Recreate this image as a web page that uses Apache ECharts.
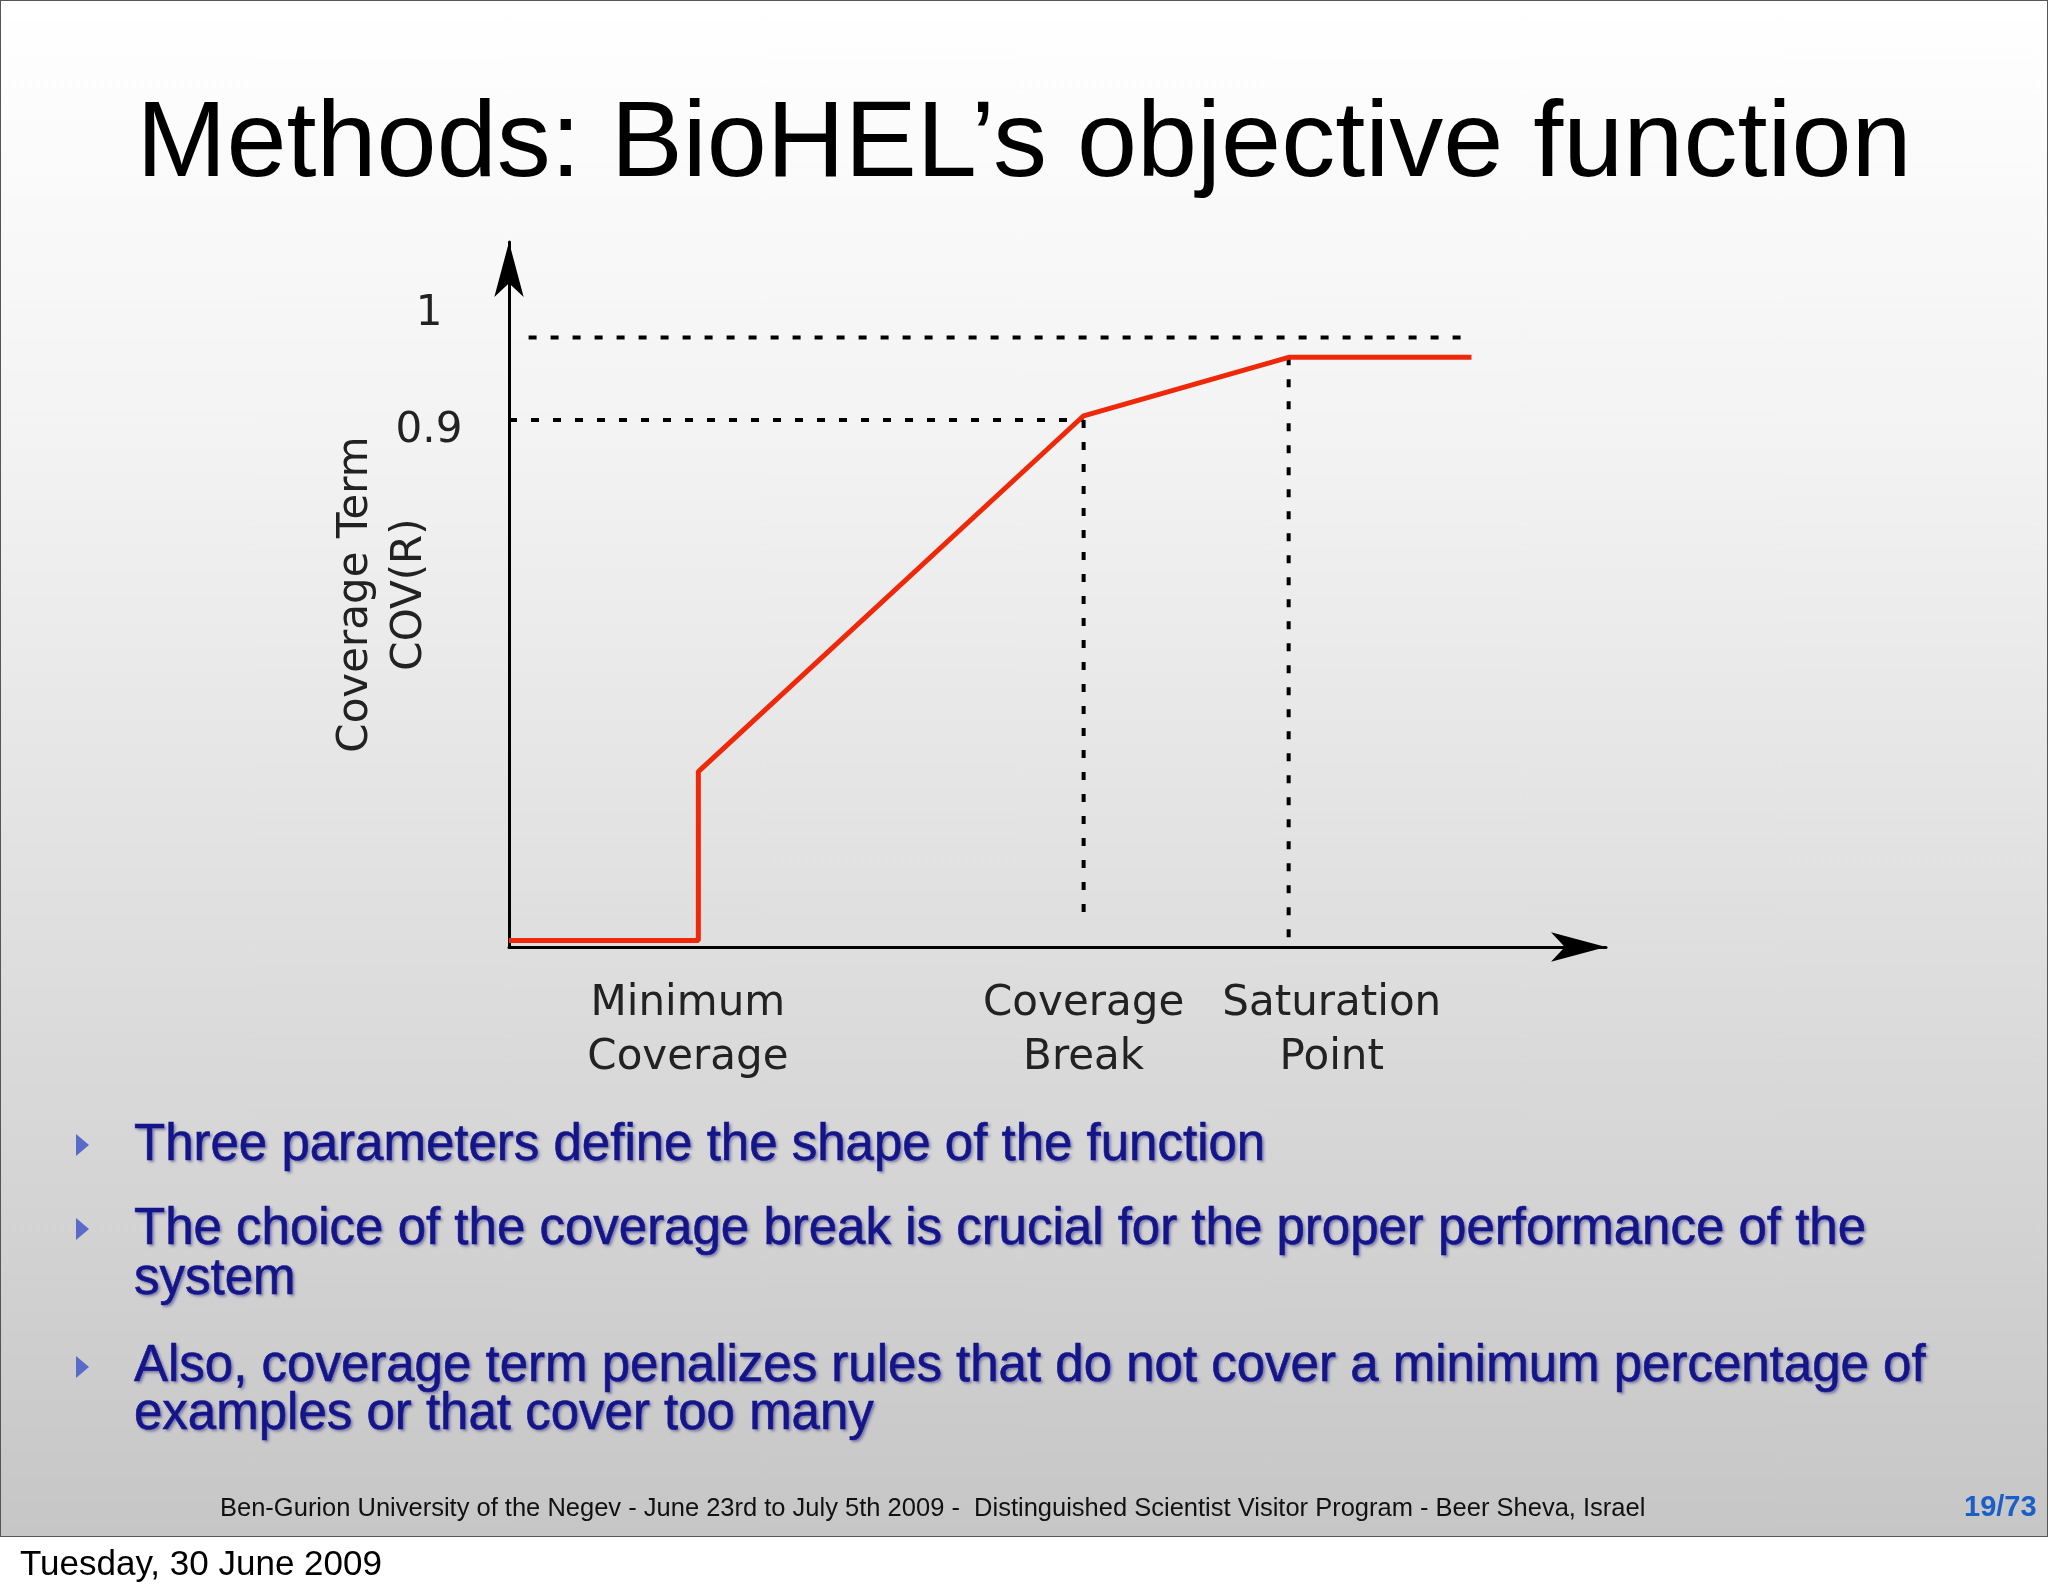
<!DOCTYPE html>
<html><head><meta charset="utf-8">
<script src="https://cdn.jsdelivr.net/npm/echarts@6/dist/echarts.min.js"></script>
<style>
html,body{margin:0;padding:0;width:2048px;height:1593px;background:#fff;overflow:hidden;font-family:"Liberation Sans",Arial,sans-serif}
#slide{position:absolute;left:0;top:0;width:2046px;height:1535px;border:1px solid #555;background:linear-gradient(#ffffff 0%,#f2f2f2 30%,#c6c6c6 100%)}
#chart{position:absolute;left:0;top:0;width:2048px;height:1593px}
.t{position:absolute;white-space:nowrap}
.b{position:absolute;left:134px;font-size:51px;color:#15158a;text-shadow:2px 2px 3px rgba(60,60,140,0.6);line-height:50px;-webkit-text-stroke:0.6px #15158a}
.tri{position:absolute;left:76px;width:0;height:0;border-top:11px solid transparent;border-bottom:11px solid transparent;border-left:13px solid #5a6ac8}
</style></head><body>
<div id="slide"></div>
<div id="chart"></div>
<div class="t" style="left:0;width:2048px;text-align:center;top:76px;font-size:108px;color:#000">Methods: BioHEL’s objective function</div>
<div class="tri" style="top:1134px"></div><div class="b" style="top:1118px">Three parameters define the shape of the function</div>
<div class="tri" style="top:1218px"></div><div class="b" style="top:1202px">The choice of the coverage break is crucial for the proper performance of the<br>system</div>
<div class="tri" style="top:1356px"></div><div class="b" style="top:1340px;line-height:48px">Also, coverage term penalizes rules that do not cover a minimum percentage of<br>examples or that cover too many</div>
<div class="t" style="left:220px;top:1493px;font-size:25.5px;color:#111">Ben-Gurion University of the Negev - June 23rd to July 5th 2009 -&nbsp; Distinguished Scientist Visitor Program - Beer Sheva, Israel</div>
<div class="t" style="left:1964px;top:1490px;font-size:29px;font-weight:bold;color:#1a5fc8">19/73</div>
<div class="t" style="left:20px;top:1543px;font-size:35px;color:#000">Tuesday, 30 June 2009</div>
<script>
const curveX=[0,145,145,440,597,737];
const curveY=[0.268,0.268,0.473,0.905,0.976,0.976];
const yTicks=[0.886,1.029];
const yTickLabels=['0.9','1'];
const xLabelPos=[137,440,630];
const xLabels=['Minimum\nCoverage','Coverage\nBreak','Saturation\nPoint'];
const ref1=[[15,1],[737,1]];
const ref09=[[0,0.9],[440,0.9]];
const vBreak=[[440,0.9],[440,0.29]];
const vSat=[[597,0.976],[597,0.26]];
const fontF='"DejaVu Sans",sans-serif';
const chart=echarts.init(document.getElementById('chart'));
const dash={type:'line',symbol:'none',silent:true,lineStyle:{color:'#000',width:4,type:[8,14]}};
chart.setOption({
 animation:false,
 grid:{left:509,top:242,width:1097,height:705},
 xAxis:{type:'value',min:0,max:840,splitLine:{show:false},axisTick:{show:false},
  axisLine:{lineStyle:{color:'#000',width:3},symbol:['none','arrow'],symbolSize:[22,55],symbolOffset:[0,0]},
  axisLabel:{customValues:xLabelPos,formatter:v=>xLabels[xLabelPos.indexOf(v)],fontFamily:fontF,fontSize:42,color:'#222',lineHeight:54,margin:30}},
 yAxis:{type:'value',min:0.26,max:1.116,splitLine:{show:false},axisTick:{show:false},
  axisLine:{show:true,lineStyle:{color:'#000',width:3},symbol:['none','arrow'],symbolSize:[22,55]},
  axisLabel:{customValues:yTicks,formatter:v=>yTickLabels[yTicks.indexOf(v)],fontFamily:fontF,fontSize:42,color:'#222',margin:80,align:'center'},
  name:'Coverage Term\nCOV(R)',nameLocation:'middle',nameRotate:90,nameGap:72,nameMoveOverlap:false,nameTextStyle:{fontFamily:fontF,fontSize:42,color:'#222',lineHeight:54}},
 series:[
  Object.assign({data:ref1},dash),
  Object.assign({data:ref09},dash),
  Object.assign({data:vBreak},dash),
  Object.assign({data:vSat},dash),
  {type:'line',symbol:'none',data:curveX.map((x,i)=>[x,curveY[i]]),lineStyle:{color:'#f0280a',width:5}}
 ]
});
</script></body></html>
